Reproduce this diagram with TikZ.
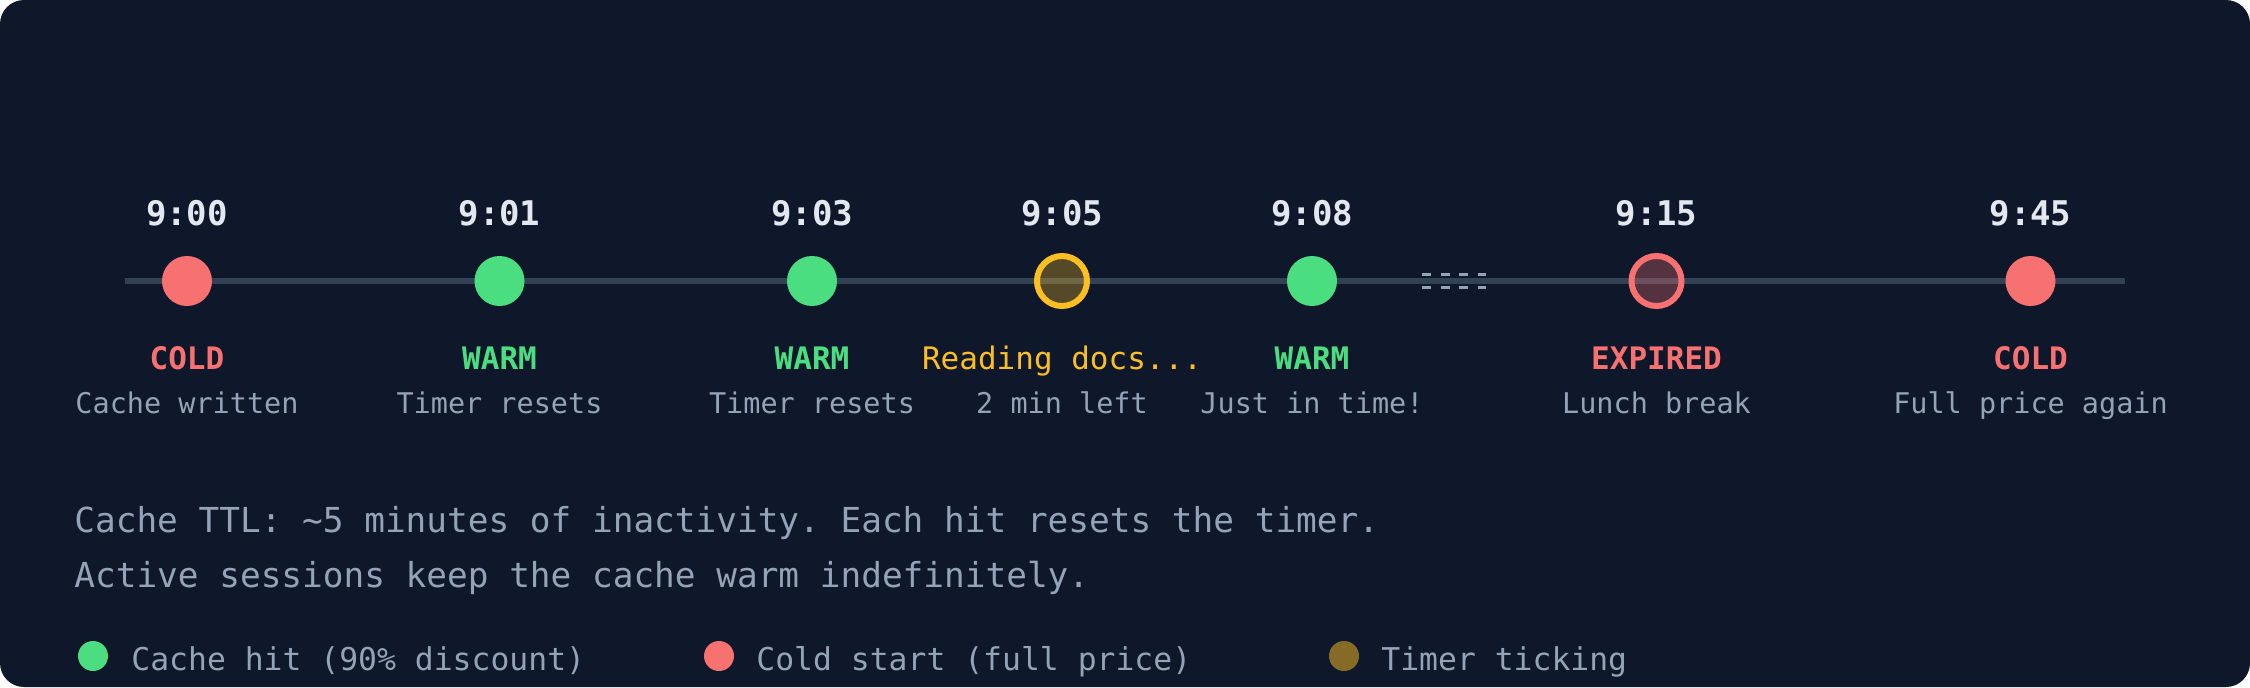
\documentclass[tikz,border=0pt]{standalone}
\usepackage{fontspec}
\setmonofont{DejaVu Sans Mono}
\definecolor{bgc}{HTML}{0F172A}
\definecolor{timec}{HTML}{E2E8F0}
\definecolor{warmc}{HTML}{4ADE80}
\definecolor{coldc}{HTML}{F87171}
\definecolor{tickc}{HTML}{FBBF24}
\definecolor{greyc}{HTML}{94A3B8}
\definecolor{linec}{HTML}{334155}
\tikzset{
  tline/.style={draw=linec, line width=3pt},
  dot/.style={circle, inner sep=0pt, minimum size=25pt},
  ringdot/.style={circle, inner sep=0pt, minimum size=25pt, line width=3pt, fill opacity=0.3},
  legdot/.style={circle, inner sep=0pt, minimum size=15pt},
  timelbl/.style={anchor=base, inner sep=0pt, text=timec, font=\ttfamily\bfseries\fontsize{17pt}{20pt}\selectfont},
  statlbl/.style={anchor=base, inner sep=0pt, font=\ttfamily\bfseries\fontsize{15.5pt}{18pt}\selectfont},
  desclbl/.style={anchor=base, inner sep=0pt, text=greyc, font=\ttfamily\fontsize{14.25pt}{17pt}\selectfont},
  notelbl/.style={anchor=base west, inner sep=0pt, text=greyc, font=\ttfamily\fontsize{17.2pt}{20pt}\selectfont},
  leglbl/.style={anchor=base west, inner sep=0pt, text=greyc, font=\ttfamily\fontsize{15.7pt}{18pt}\selectfont},
  gapmark/.style={draw=greyc, line width=1.5pt, dash pattern=on 4.6pt off 4.7pt}
}
\begin{document}
\begin{tikzpicture}[x=0.5pt,y=-0.5pt]
\fill[white] (0,0) rectangle (2250,687);
\fill[bgc, rounded corners=12pt] (0,0) rectangle (2250,687);
\useasboundingbox (0,0) rectangle (2250,687);

% timeline
\coordinate (tl0) at (125,281);
\coordinate (tl1) at (2125,281);
\draw[tline] (tl0) -- (tl1);

% gap marker
\coordinate (ga0) at (1422,274.5);
\coordinate (ga1) at (1486,274.5);
\coordinate (gb0) at (1422,287.5);
\coordinate (gb1) at (1486,287.5);
\draw[gapmark] (ga0) -- (ga1);
\draw[gapmark] (gb0) -- (gb1);

% events
\node[dot, fill=coldc] (e1) at (187,281) {};
\node[dot, fill=warmc] (e2) at (499.5,281) {};
\node[dot, fill=warmc] (e3) at (812,281) {};
\node[ringdot, draw=tickc, fill=tickc] (e4) at (1062,281) {};
\node[dot, fill=warmc] (e5) at (1312,281) {};
\node[ringdot, draw=coldc, fill=coldc] (e6) at (1656.5,281) {};
\node[dot, fill=coldc] (e7) at (2030.5,281) {};

% time labels
\node[timelbl] (t1) at (187,225) {9:00};
\node[timelbl] (t2) at (499.5,225) {9:01};
\node[timelbl] (t3) at (812,225) {9:03};
\node[timelbl] (t4) at (1062,225) {9:05};
\node[timelbl] (t5) at (1312,225) {9:08};
\node[timelbl] (t6) at (1656.5,225) {9:15};
\node[timelbl] (t7) at (2030.5,225) {9:45};

% status labels
\node[statlbl, text=coldc] (s1) at (187,369) {COLD};
\node[statlbl, text=warmc] (s2) at (499.5,369) {WARM};
\node[statlbl, text=warmc] (s3) at (812,369) {WARM};
\node[statlbl, text=tickc, font=\ttfamily\fontsize{15.5pt}{18pt}\selectfont] (s4) at (1062,369) {Reading docs...};
\node[statlbl, text=warmc] (s5) at (1312,369) {WARM};
\node[statlbl, text=coldc] (s6) at (1656.5,369) {EXPIRED};
\node[statlbl, text=coldc] (s7) at (2030.5,369) {COLD};

% descriptions
\node[desclbl] (d1) at (187,413) {Cache written};
\node[desclbl] (d2) at (499.5,413) {Timer resets};
\node[desclbl] (d3) at (812,413) {Timer resets};
\node[desclbl] (d4) at (1062,413) {2 min left};
\node[desclbl] (d5) at (1312,413) {Just in time!};
\node[desclbl] (d6) at (1656.5,413) {Lunch break};
\node[desclbl] (d7) at (2030.5,413) {Full price again};

% notes
\node[notelbl] (n1) at (74,532) {Cache TTL: \textasciitilde5 minutes of inactivity. Each hit resets the timer.};
\node[notelbl] (n2) at (74,587) {Active sessions keep the cache warm indefinitely.};

% legend
\node[legdot, fill=warmc] (l1) at (93,656) {};
\node[leglbl] (lt1) at (131,670) {Cache hit (90\% discount)};
\node[legdot, fill=coldc] (l2) at (719,656) {};
\node[leglbl] (lt2) at (756,670) {Cold start (full price)};
\node[legdot, fill=tickc, fill opacity=0.5] (l3) at (1344,656) {};
\node[leglbl] (lt3) at (1381,670) {Timer ticking};
\end{tikzpicture}
\end{document}
